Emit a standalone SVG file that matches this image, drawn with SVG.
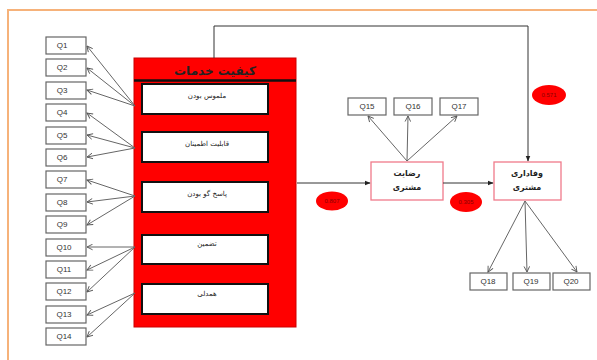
<svg xmlns="http://www.w3.org/2000/svg" width="597" height="360" viewBox="0 0 597 360">
<defs>
<marker id="open" viewBox="0 0 10 10" refX="9" refY="5" markerWidth="7" markerHeight="7" orient="auto" markerUnits="userSpaceOnUse">
<path d="M1,1 L9,5 L1,9" fill="none" stroke="#555" stroke-width="1.3"/>
</marker>
<marker id="solid" viewBox="0 0 10 10" refX="9" refY="5" markerWidth="6" markerHeight="6" orient="auto" markerUnits="userSpaceOnUse">
<path d="M0,1 L10,5 L0,9 Z" fill="#222"/>
</marker>
<style>
.q rect{fill:#fff;stroke:#666;stroke-width:1.2}
.q text{font-family:"Liberation Sans",Arial,sans-serif;font-size:8px;fill:#333;text-anchor:middle}
.fa{font-family:"DejaVu Sans","Noto Sans",sans-serif;text-anchor:middle;fill:#222}
.thin{stroke:#666;stroke-width:1;fill:none;marker-end:url(#open)}
.main{stroke:#333;stroke-width:1;fill:none;marker-end:url(#solid)}
.ell ellipse{fill:#ff0000}
.ell text{font-family:"Liberation Sans",Arial,sans-serif;font-size:6px;fill:#8b0000;text-anchor:middle}
.pink{fill:#fff;stroke:#f07a8a;stroke-width:1.3}
.inner{fill:#fff;stroke:#111;stroke-width:2}
</style>
</defs>
<rect width="597" height="360" fill="#fff"/>
<path d="M8,360 V10 H597" fill="none" stroke="#f6b27a" stroke-width="2"/>

<g id="quality">
<rect x="134" y="58" width="162" height="269" fill="#ff0000" stroke="#cc0000" stroke-width="1"/>
<line x1="134" y1="80.5" x2="296" y2="80.5" stroke="#111" stroke-width="2.5"/>
<text class="fa" x="215" y="75" font-size="12" font-weight="bold">کیفیت خدمات</text>
</g>
<g id="d1"><rect class="inner" x="142" y="84" width="126" height="30"/><text class="fa" x="207" y="98" font-size="7">ملموس بودن</text></g>
<g id="d2"><rect class="inner" x="142" y="132" width="126" height="30"/><text class="fa" x="207" y="146" font-size="7">قابلیت اطمینان</text></g>
<g id="d3"><rect class="inner" x="142" y="182" width="126" height="30"/><text class="fa" x="207" y="196" font-size="7">پاسخ گو بودن</text></g>
<g id="d4"><rect class="inner" x="142" y="235" width="126" height="29"/><text class="fa" x="207" y="246" font-size="7">تضمین</text></g>
<g id="d5"><rect class="inner" x="142" y="284" width="126" height="30"/><text class="fa" x="207" y="296" font-size="7">همدلی</text></g>

<g id="Q1" class="q"><rect x="46" y="37" width="40" height="17"/><text x="62" y="48">Q1</text></g>
<g id="Q2" class="q"><rect x="46" y="59" width="40" height="17"/><text x="62" y="70">Q2</text></g>
<g id="Q3" class="q"><rect x="46" y="82" width="40" height="17"/><text x="62" y="93">Q3</text></g>
<g id="Q4" class="q"><rect x="46" y="104" width="40" height="17"/><text x="62" y="115">Q4</text></g>
<g id="Q5" class="q"><rect x="46" y="127" width="40" height="17"/><text x="62" y="138">Q5</text></g>
<g id="Q6" class="q"><rect x="46" y="149" width="40" height="17"/><text x="62" y="160">Q6</text></g>
<g id="Q7" class="q"><rect x="46" y="171" width="40" height="17"/><text x="62" y="182">Q7</text></g>
<g id="Q8" class="q"><rect x="46" y="194" width="40" height="17"/><text x="62" y="205">Q8</text></g>
<g id="Q9" class="q"><rect x="46" y="216" width="40" height="17"/><text x="62" y="227">Q9</text></g>
<g id="Q10" class="q"><rect x="46" y="239" width="40" height="17"/><text x="64" y="250">Q10</text></g>
<g id="Q11" class="q"><rect x="46" y="261" width="40" height="17"/><text x="64" y="272">Q11</text></g>
<g id="Q12" class="q"><rect x="46" y="283" width="40" height="17"/><text x="64" y="294">Q12</text></g>
<g id="Q13" class="q"><rect x="46" y="306" width="40" height="17"/><text x="64" y="317">Q13</text></g>
<g id="Q14" class="q"><rect x="46" y="328" width="40" height="17"/><text x="64" y="339">Q14</text></g>

<g id="satisfaction">
<rect class="pink" x="371" y="162" width="72" height="38"/>
<text class="fa" x="407" y="176" font-size="8" font-weight="bold">رضایت</text>
<text class="fa" x="407" y="190" font-size="8" font-weight="bold">مشتری</text>
</g>
<g id="Q15" class="q"><rect x="348" y="98" width="38" height="17"/><text x="367" y="109">Q15</text></g>
<g id="Q16" class="q"><rect x="394" y="98" width="38" height="17"/><text x="413" y="109">Q16</text></g>
<g id="Q17" class="q"><rect x="440" y="98" width="38" height="17"/><text x="459" y="109">Q17</text></g>

<g id="loyalty">
<rect class="pink" x="494" y="162" width="67" height="38"/>
<text class="fa" x="527" y="176" font-size="8" font-weight="bold">وفاداری</text>
<text class="fa" x="527" y="190" font-size="8" font-weight="bold">مشتری</text>
</g>
<g id="Q18" class="q"><rect x="470" y="273" width="37" height="17"/><text x="488" y="284">Q18</text></g>
<g id="Q19" class="q"><rect x="513" y="273" width="37" height="17"/><text x="531" y="284">Q19</text></g>
<g id="Q20" class="q"><rect x="553" y="273" width="37" height="17"/><text x="571" y="284">Q20</text></g>

<g id="connectors">
<line class="thin" x1="135" y1="106" x2="87" y2="46"/>
<line class="thin" x1="135" y1="106" x2="87" y2="68"/>
<line class="thin" x1="135" y1="106" x2="87" y2="90"/>
<line class="thin" x1="135" y1="148" x2="87" y2="113"/>
<line class="thin" x1="135" y1="148" x2="87" y2="135"/>
<line class="thin" x1="135" y1="148" x2="87" y2="157"/>
<line class="thin" x1="135" y1="196" x2="87" y2="180"/>
<line class="thin" x1="135" y1="196" x2="87" y2="202"/>
<line class="thin" x1="135" y1="196" x2="87" y2="225"/>
<line class="thin" x1="135" y1="247" x2="87" y2="247"/>
<line class="thin" x1="135" y1="247" x2="87" y2="270"/>
<line class="thin" x1="135" y1="247" x2="87" y2="292"/>
<line class="thin" x1="135" y1="293" x2="87" y2="315"/>
<line class="thin" x1="135" y1="293" x2="87" y2="337"/>
<line class="thin" x1="407" y1="161" x2="368" y2="116"/>
<line class="thin" x1="407" y1="161" x2="408" y2="116"/>
<line class="thin" x1="407" y1="161" x2="457" y2="116"/>
<line class="thin" x1="525" y1="201" x2="488" y2="272"/>
<line class="thin" x1="525" y1="201" x2="527" y2="272"/>
<line class="thin" x1="525" y1="201" x2="577" y2="272"/>
<line class="main" x1="297" y1="183" x2="370" y2="183"/>
<line class="main" x1="443" y1="183" x2="493" y2="183"/>
<path class="main" d="M214,58 V26 H528 V161"/>
</g>

<g class="ell" id="e1"><ellipse cx="332" cy="201" rx="16" ry="9.5"/><text x="332" y="203">0.807</text></g>
<g class="ell" id="e2"><ellipse cx="466" cy="202" rx="16" ry="10"/><text x="466" y="204">0.305</text></g>
<g class="ell" id="e3"><ellipse cx="549" cy="95" rx="17" ry="10"/><text x="549" y="97">0.571</text></g>
</svg>
